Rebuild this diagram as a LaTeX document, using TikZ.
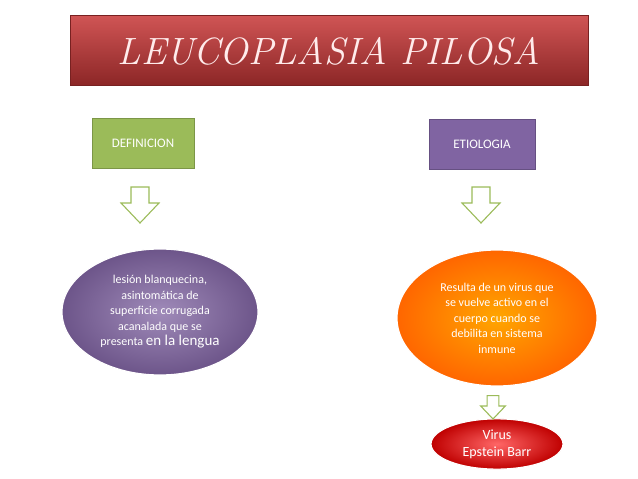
\documentclass[tikz,border=0pt]{standalone}
\usepackage{fontspec}
\setmainfont{Carlito}
\newfontfamily\titlefont{Latin Modern Roman}
\usetikzlibrary{shapes.geometric, positioning, calc}
\definecolor{titlered}{RGB}{200,55,55}
\definecolor{defgreen}{RGB}{155,187,89}
\definecolor{etpurple}{RGB}{128,100,162}
\tikzset{
    headbox/.style={draw=#1!80!black, fill=#1, minimum width=102, minimum height=50, text=white, font=\fontsize{13}{15}\selectfont},
    blob/.style={ellipse, draw=white, line width=1.2pt, text=white, align=center, font=\fontsize{12}{15.5}\selectfont},
    downarrow/.style={draw=defgreen, fill=white, line width=1.1pt},
}
\newcommand{\hollowarrow}[3]{%
    \draw[downarrow, shift={(#1,#2)}, scale=#3] (-9,-16) -- ++(18,0) -- ++(0,16) -- ++(10,0) -- ++(-19,20) -- ++(-19,-20) -- ++(10,0) -- cycle;}
\begin{document}
\begin{tikzpicture}[x=1pt, y=-1pt]
    \useasboundingbox (0,0) rectangle (638,479);

    % title
    \shade[top color=titlered!85, bottom color=titlered!70!black, draw=titlered!60!black]
        (70,15) rectangle (588,85);
    \node[font=\titlefont\itshape\fontsize{38}{38}\selectfont, text=white!92!red] (title) at (329,51) {LEUCOPLASIA PILOSA};

    % headings
    \node[headbox=defgreen] (def) at (143,143) {DEFINICION};
    \node[headbox=etpurple, minimum width=106] (etio) at (482,144) {ETIOLOGIA};

    % ellipses
    \node[blob, minimum width=196, minimum height=126, shading=radial,
          inner color=etpurple!75!white, outer color=etpurple!85!black] (lesion) at (160,312)
        {lesión blanquecina,\\ asintomática de\\ superficie corrugada\\ acanalada que se\\
         presenta {\fontsize{15}{15}\selectfont en la lengua}};
    \node[blob, minimum width=200, minimum height=136, shading=radial,
          inner color=orange!70!yellow, outer color=orange!80!red] (virus) at (497,318)
        {Resulta de un virus que\\ se vuelve activo en el\\ cuerpo cuando se\\ debilita en sistema\\ inmune};
    \node[blob, minimum width=132, minimum height=50, font=\fontsize{14}{17}\selectfont, shading=radial,
          inner color=red!60!white, outer color=red!75!black] (eb) at (497,444)
        {Virus\\ Epstein Barr};

    \hollowarrow{140}{203}{1}
    \hollowarrow{481}{203}{1}
    \hollowarrow{493}{406}{0.65}
\end{tikzpicture}
\end{document}
